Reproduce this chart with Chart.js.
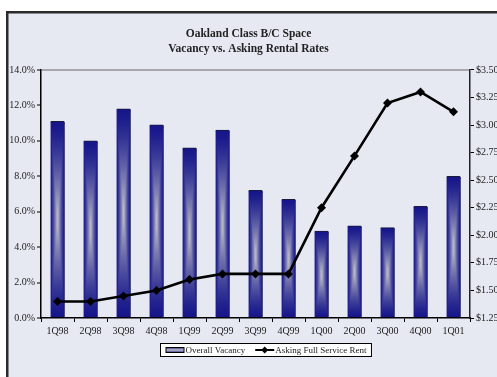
<!DOCTYPE html>
<html>
<head>
<meta charset="utf-8">
<script src="https://cdn.jsdelivr.net/npm/chart.js@4/dist/chart.umd.min.js"></script>
<style>
  html, body { margin: 0; padding: 0; background: #fff; }
  #wrap { width: 497px; height: 377px; }
</style>
</head>
<body>
<div id="wrap"><canvas id="c" width="497" height="377"></canvas></div>
<script>
// Quarterly categories
const quarters = ['1Q98', '2Q98', '3Q98', '4Q98', '1Q99', '2Q99', '3Q99', '4Q99', '1Q00', '2Q00', '3Q00', '4Q00', '1Q01'];
// Overall vacancy, percent
const vacancy = [11.1, 10.0, 11.8, 10.9, 9.6, 10.6, 7.2, 6.7, 4.9, 5.2, 5.1, 6.3, 8.0];
// Asking full service rent, $ per sq ft per month
const askingRent = [1.40, 1.40, 1.45, 1.50, 1.60, 1.65, 1.65, 1.65, 2.25, 2.72, 3.20, 3.30, 3.12];

const titleLines = ['Oakland Class B/C Space', 'Vacancy vs. Asking Rental Rates'];
const seriesNames = ['Overall Vacancy', 'Asking Full Service Rent'];

const SERIF = "'Liberation Serif', 'DejaVu Serif', serif";
const BG = '#e6e9f2';
const NAVY = [22, 22, 138];
const LIGHT = [200, 200, 206];
const BAR_W = 14;

// Fill a bar with a "from centre" gradient: light along the middle, navy at the edges.
function barPattern(ctx, left, top, w, h) {
  w = Math.max(1, Math.round(w));
  h = Math.max(1, Math.round(h));
  const off = document.createElement('canvas');
  off.width = w; off.height = h;
  const octx = off.getContext('2d');
  const img = octx.createImageData(w, h);
  for (let y = 0; y < h; y++) {
    const v = Math.abs((y + 0.5) / h * 2 - 1);
    for (let x = 0; x < w; x++) {
      const u = Math.abs((x + 0.5) / w * 2 - 1);
      const t = Math.max(u, v);
      const s = Math.pow(1 - t, 1.4);
      const k = (y * w + x) * 4;
      img.data[k] = NAVY[0] + (LIGHT[0] - NAVY[0]) * s;
      img.data[k + 1] = NAVY[1] + (LIGHT[1] - NAVY[1]) * s;
      img.data[k + 2] = NAVY[2] + (LIGHT[2] - NAVY[2]) * s;
      img.data[k + 3] = 255;
    }
  }
  octx.putImageData(img, 0, 0);
  const pat = ctx.createPattern(off, 'repeat');
  pat.setTransform(new DOMMatrix([1, 0, 0, 1, left, top]));
  return pat;
}

function barFill(c) {
  const ch = c.chart;
  if (!ch.chartArea || !ch.scales.x || !ch.scales.y) return 'rgb(22,22,138)';
  const cx = ch.scales.x.getPixelForValue(c.dataIndex);
  const top = ch.scales.y.getPixelForValue(c.raw);
  const bot = ch.scales.y.getPixelForValue(0);
  return barPattern(ch.ctx, cx - BAR_W / 2, top, BAR_W, bot - top);
}

// Page frame and background
const framePlugin = {
  id: 'frame',
  beforeDraw(chart) {
    const ctx = chart.ctx;
    ctx.save();
    ctx.fillStyle = '#ffffff';
    ctx.fillRect(0, 0, chart.width, chart.height);
    ctx.fillStyle = BG;
    ctx.fillRect(7, 12, chart.width, chart.height);
    ctx.strokeStyle = '#2b2b2b';
    ctx.lineWidth = 2.5;
    ctx.beginPath();
    ctx.moveTo(7.25, chart.height);
    ctx.lineTo(7.25, 12.25);
    ctx.lineTo(chart.width, 12.25);
    ctx.stroke();
    ctx.restore();
  }
};

// Drop shadow behind the vacancy bars
const shadowPlugin = {
  id: 'barShadow',
  beforeDatasetDraw(chart, args) {
    if (args.index !== 0) return;
    const ctx = chart.ctx;
    ctx.save();
    ctx.shadowColor = 'rgba(0,0,0,1)';
    ctx.shadowOffsetX = 2;
    ctx.shadowOffsetY = 1;
    ctx.shadowBlur = 0;
  },
  afterDatasetDraw(chart, args) {
    if (args.index !== 0) return;
    chart.ctx.restore();
  }
};

// Boxed legend under the axis
const legendPlugin = {
  id: 'boxLegend',
  afterDraw(chart) {
    const ctx = chart.ctx;
    ctx.save();
    ctx.font = '9px ' + SERIF;
    const t1 = ctx.measureText(seriesNames[0]).width;
    const t2 = ctx.measureText(seriesNames[1]).width;
    const sw = 19, gap = 1, mid = 10, pad = 5;
    const total = pad + sw + gap + t1 + mid + sw + gap + t2 + pad;
    const cx = 265;
    const left = Math.round(cx - total / 2) + 0.5;
    const top = 343.5, h = 13;
    ctx.fillStyle = '#ffffff';
    ctx.fillRect(left, top, total, h);
    ctx.strokeStyle = '#000';
    ctx.lineWidth = 1;
    ctx.strokeRect(left, top, total, h);
    const my = top + h / 2;
    let x = left + pad;
    // bar swatch
    const g = ctx.createLinearGradient(0, my - 3, 0, my + 3);
    g.addColorStop(0, 'rgb(22,22,138)');
    g.addColorStop(0.5, 'rgb(190,190,200)');
    g.addColorStop(1, 'rgb(22,22,138)');
    ctx.fillStyle = '#000';
    ctx.fillRect(x, my - 3, sw, 6);
    ctx.fillStyle = g;
    ctx.fillRect(x + 1, my - 2, sw - 2, 4);
    x += sw + gap;
    ctx.fillStyle = '#222';
    ctx.textBaseline = 'middle';
    ctx.textAlign = 'left';
    ctx.fillText(seriesNames[0], x, my + 0.5);
    x += t1 + mid;
    // line swatch
    ctx.strokeStyle = '#000';
    ctx.lineWidth = 2;
    ctx.beginPath();
    ctx.moveTo(x, my);
    ctx.lineTo(x + sw, my);
    ctx.stroke();
    ctx.fillStyle = '#000';
    ctx.beginPath();
    const dx = x + sw / 2;
    ctx.moveTo(dx, my - 3.5);
    ctx.lineTo(dx + 3.5, my);
    ctx.lineTo(dx, my + 3.5);
    ctx.lineTo(dx - 3.5, my);
    ctx.closePath();
    ctx.fill();
    x += sw + gap;
    ctx.fillStyle = '#222';
    ctx.fillText(seriesNames[1], x, my + 0.5);
    ctx.restore();
  }
};

Chart.defaults.font.family = SERIF;
Chart.defaults.color = '#222';

new Chart(document.getElementById('c'), {
  data: {
    labels: quarters,
    datasets: [
      {
        type: 'bar',
        label: seriesNames[0],
        data: vacancy,
        yAxisID: 'y',
        order: 1,
        barThickness: BAR_W,
        backgroundColor: barFill,
        borderColor: '#1a1a3a',
        borderWidth: { top: 1, left: 0, right: 0, bottom: 0 },
        borderSkipped: 'bottom'
      },
      {
        type: 'line',
        label: seriesNames[1],
        data: askingRent,
        yAxisID: 'y2',
        order: 0,
        borderColor: '#000',
        borderWidth: 2.6,
        tension: 0,
        pointStyle: 'rectRot',
        pointRadius: 4.5,
        pointBackgroundColor: '#000',
        pointBorderColor: '#000',
        pointBorderWidth: 0
      }
    ]
  },
  options: {
    responsive: false,
    animation: false,
    events: [],
    layout: { padding: { top: 0, left: 0, right: 0, bottom: 37 } },
    plugins: {
      legend: { display: false },
      tooltip: { enabled: false },
      title: {
        display: true,
        text: titleLines,
        font: { size: 11.5, weight: 'bold', family: SERIF, lineHeight: 1.3 },
        color: '#222',
        padding: { top: 27, bottom: 13 }
      }
    },
    scales: {
      x: {
        offset: true,
        grid: { offset: true, drawOnChartArea: false, drawTicks: true, tickLength: 4, tickColor: '#000', tickWidth: 1 },
        border: { display: true, color: '#000', width: 1.5 },
        ticks: { font: { size: 10 }, color: '#222', padding: 3, maxRotation: 0, autoSkip: false }
      },
      y: {
        position: 'left',
        min: 0, max: 14,
        ticks: { stepSize: 2, font: { size: 10 }, color: '#222', padding: 2,
                 callback: v => v.toFixed(1) + '%' },
        grid: {
          drawOnChartArea: true, drawTicks: true, tickLength: 4, tickColor: '#000', tickWidth: 1,
          color: c => (c.tick && c.tick.value === 14) ? '#a8a8ac' : 'rgba(0,0,0,0)',
          lineWidth: 2
        },
        border: { display: true, color: '#000', width: 1.5 },
        afterFit: s => { s.width = 41; }
      },
      y2: {
        position: 'right',
        min: 1.25, max: 3.5,
        ticks: { stepSize: 0.25, font: { size: 10 }, color: '#222', padding: 2,
                 callback: v => '$' + v.toFixed(2) },
        grid: { drawOnChartArea: false, drawTicks: true, tickLength: 4, tickColor: '#000', tickWidth: 1 },
        border: { display: true, color: '#222', width: 1.5 },
        afterFit: s => { s.width = 27; }
      }
    }
  },
  plugins: [framePlugin, shadowPlugin, legendPlugin]
});
</script>
</body>
</html>
